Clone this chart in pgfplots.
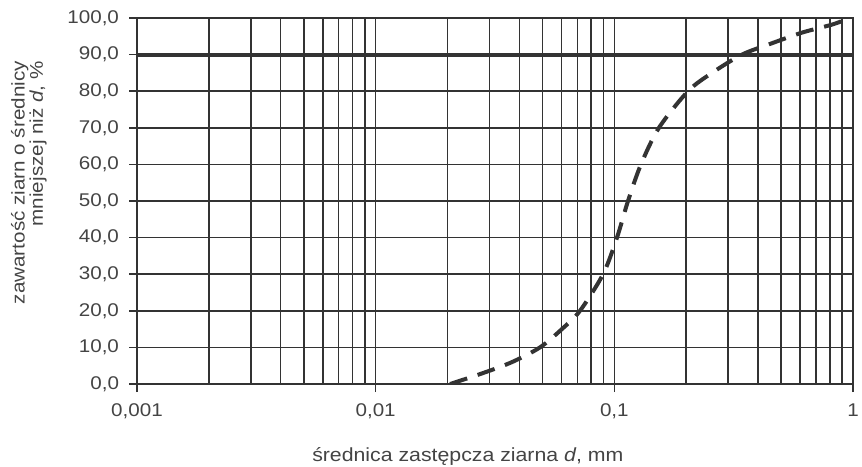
\documentclass[border=0pt]{standalone}
\usepackage{pgfplots}
\pgfplotsset{compat=1.18}
\usepackage{fontspec}
\setmainfont{Liberation Sans}[FakeStretch=1.12]
\definecolor{ln}{HTML}{333333}
\definecolor{tx}{HTML}{444444}
\begin{document}
\begin{tikzpicture}
\useasboundingbox (-68.5pt,-41pt) rectangle (362.5pt,192pt);
\begin{axis}[
  scale only axis,
  width=358pt, height=183pt,
  xmode=log,
  xmin=0.001, xmax=1,
  ymin=0, ymax=100,
  axis line style={draw=ln, line width=0.8pt},
  xtick={0.001,0.01,0.1,1},
  xticklabels={{0,001},{0,01},{0,1},{1}},
  minor xtick={0.002,0.003,0.004,0.005,0.006,0.007,0.008,0.009,
               0.02,0.03,0.04,0.05,0.06,0.07,0.08,0.09,
               0.2,0.3,0.4,0.5,0.6,0.7,0.8,0.9},
  ytick={0,10,20,30,40,50,60,70,80,90,100},
  yticklabels={{0,0},{10,0},{20,0},{30,0},{40,0},{50,0},{60,0},{70,0},{80,0},{90,0},{100,0}},
  xmajorgrids, xminorgrids, ymajorgrids,
  grid style={draw=ln, line width=0.8pt},
  minor grid style={draw=ln, line width=0.8pt},
  tick align=outside,
  major tick length=4pt,
  minor tick length=0pt,
  tick style={draw=ln, line width=0.8pt},
  xtick pos=bottom, ytick pos=left,
  ticklabel style={font=\fontsize{9.2}{10}\selectfont, text=tx},
  xticklabel style={yshift=-2.5pt},
  yticklabel style={xshift=-1.5pt},
  xlabel={średnica zastępcza ziarna \textit{d}, mm},
  xlabel style={at={(rel axis cs:0.462,-0.213)}, anchor=base, font=\fontsize{9.5}{10}\selectfont, text=tx},
  ylabel={zawartość ziarn o średnicy\\mniejszej niż \textit{d}, \%},
  ylabel style={at={(rel axis cs:-0.151,0.55)}, anchor=center, align=right, font=\fontsize{9.2}{9.1}\selectfont, text=tx},
]
\addplot[draw=ln, line width=2pt, forget plot] coordinates {(0.001,90) (1,90)};
\addplot[draw=ln, line width=2pt, dash pattern=on 9pt off 5.5pt, smooth, tension=0.5] coordinates {
(0.0205,0) (0.0282,3) (0.0373,6) (0.0488,10) (0.0603,15) (0.0718,20) (0.0897,30) (0.1026,40) (0.1141,50) (0.1293,60) (0.1538,70) (0.2036,80) (0.2566,85) (0.3427,90) (0.453,93) (0.611,96) (0.817,98.2) (0.953,99.8)
};
\end{axis}
\end{tikzpicture}
\end{document}
